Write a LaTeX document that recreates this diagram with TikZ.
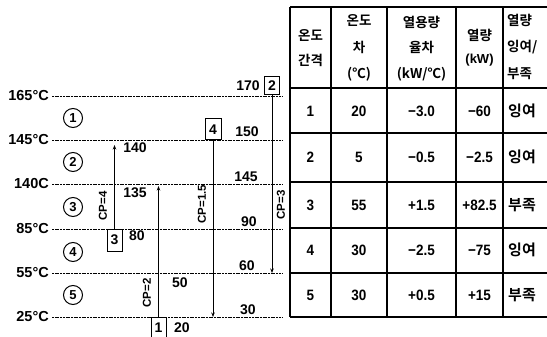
\documentclass[tikz,border=0pt]{standalone}
\usepackage{fontspec}
\setmainfont{Liberation Sans}
\newfontfamily\bsans{Liberation Sans Bold}
\newfontfamily\tsans[FakeStretch=0.9]{Liberation Sans Bold}
\newfontfamily\kr{Noto Sans CJK KR Bold}
\usetikzlibrary{arrows.meta}
\begin{document}
\begin{tikzpicture}[x=1pt,y=-1pt,
 lvl/.style={dash pattern=on 2pt off 0.7pt, line width=0.8pt},
 lvllab/.style={anchor=east, font=\bsans\fontsize{14.5}{14.5}\selectfont, inner sep=0},
 num/.style={font=\bsans\fontsize{14}{14}\selectfont, inner sep=0},
 zone/.style={circle, draw, line width=1pt, minimum size=19pt, inner sep=0, font=\bsans\fontsize{13}{13}\selectfont},
 sbox/.style={draw, line width=1pt, minimum width=15pt, minimum height=19pt, inner sep=0, font=\bsans\fontsize{14}{14}\selectfont},
 strm/.style={line width=0.9pt},
 arr/.style={strm, -{Stealth[length=4.5pt,width=3.5pt]}},
 cp/.style={rotate=90, font=\bsans\fontsize{11.5}{11.5}\selectfont, inner sep=0},
 tline/.style={line width=1.5pt},
 hd/.style={font=\kr\fontsize{13.5}{13.5}\selectfont, inner sep=0},
 hdl/.style={font=\bsans\fontsize{13}{13}\selectfont, inner sep=0},
 cell/.style={font=\tsans\fontsize{15}{15}\selectfont, inner sep=0},
 kcell/.style={font=\kr\fontsize{15}{15}\selectfont, inner sep=0}
]
\useasboundingbox (0,0) rectangle (547,337);

% ---------- temperature levels ----------
\node[lvllab] (L1) at (49,96) {165°C};
\node[lvllab] (L2) at (49,140) {145°C};
\node[lvllab] (L3) at (49,184) {140C};
\node[lvllab] (L4) at (49,229) {85°C};
\node[lvllab] (L5) at (49,273) {55°C};
\node[lvllab] (L6) at (49,317) {25°C};
\foreach \i/\y in {1/96,2/140,3/184,4/229,5/273,6/317}{
  \coordinate (s\i) at (52,\y);
  \coordinate (e\i) at (283,\y);
  \draw[lvl] (s\i) -- (e\i);
}

% ---------- interval numbers ----------
\node[zone] (z1) at (73,118) {1};
\node[zone] (z2) at (73,162) {2};
\node[zone] (z3) at (73,207) {3};
\node[zone] (z4) at (73,252) {4};
\node[zone] (z5) at (73,295) {5};

% ---------- stream 3 (CP=4) ----------
\node[sbox, minimum height=22pt] (b3) at (114.5,240) {3};
\coordinate (t3) at (114.5,145);
\draw[arr] (b3.north) -- (t3);
\node[num] (n80) at (137,236) {80};
\node[num] (n140) at (135,148) {140};
\node[num] (n135) at (135,193) {135};
\node[cp] (cp4) at (103,206) {CP=4};

% ---------- stream 1 (CP=2) ----------
\node[sbox, minimum height=21pt] (b1) at (158.5,327.5) {1};
\coordinate (t1) at (158.5,186);
\draw[arr] (b1.north) -- (t1);
\node[num] (n20) at (182,328) {20};
\node[num] (n50) at (180,283) {50};
\node[cp] (cp2) at (147,293) {CP=2};

% ---------- stream 4 (CP=1.5) ----------
\node[sbox, minimum width=16pt, minimum height=21pt] (b4) at (213,129.5) {4};
\coordinate (t4) at (213,317);
\draw[arr] (b4.south) -- (t4);
\node[num] (n150) at (247,132) {150};
\node[cp] (cp15) at (202,204) {CP=1.5};

% ---------- stream 2 (CP=3) ----------
\node[sbox, minimum height=18pt] (b2) at (272,86) {2};
\coordinate (t2) at (272,273);
\draw[arr] (b2.south) -- (t2);
\node[num] (n170) at (248,86) {170};
\node[num] (n145) at (246,177) {145};
\node[num] (n90) at (249,222) {90};
\node[num] (n60) at (247,266) {60};
\node[num] (n30) at (248,310) {30};
\node[cp] (cp3) at (281,205) {CP=3};

% ---------- table ----------
\draw[tline] (290,7) -- (552,7);
\foreach \y in {88,133,182,228,273,317}{\draw[tline] (290,\y) -- (552,\y);}
\foreach \x in {290,331,387,456,503}{\draw[tline] (\x,7) -- (\x,317);}

% header
\node[hd] (h0a) at (310.5,35) {온도};
\node[hd] (h0b) at (310.5,60) {간격};
\node[hd] (h1a) at (359,20) {온도};
\node[hd] (h1b) at (359,47) {차};
\node[hd] (h1c) at (359,74) {(℃)};
\node[hd] (h2a) at (421.5,22) {열용량};
\node[hd] (h2b) at (421.5,47) {율차};
\node[hd] (h2c) at (421.5,74) {(kW/℃)};
\node[hd] (h3a) at (479.5,35) {열량};
\node[hdl] (h3b) at (479.5,60) {(kW)};
\node[hd, anchor=west] (h4a) at (507,20) {열량};
\node[hd, anchor=west] (h4b) at (507,47) {잉여/};
\node[hd, anchor=west] (h4c) at (507,74) {부족};

% rows
\foreach \r/\yy/\a/\b/\c/\d/\e in {1/111/1/20/−3.0/−60/잉여,
                                  2/157/2/5/−0.5/−2.5/잉여,
                                  3/205/3/55/+1.5/+82.5/부족,
                                  4/250/4/30/−2.5/−75/잉여,
                                  5/295/5/30/+0.5/+15/부족}{
  \node[cell] (r\r a) at (310.5,\yy) {\a};
  \node[cell] (r\r b) at (359,\yy) {\b};
  \node[cell] (r\r c) at (421.5,\yy) {\c};
  \node[cell] (r\r d) at (479.5,\yy) {\d};
  \node[kcell, anchor=west] (r\r e) at (508,\yy) {\e};
}
\end{tikzpicture}
\end{document}
